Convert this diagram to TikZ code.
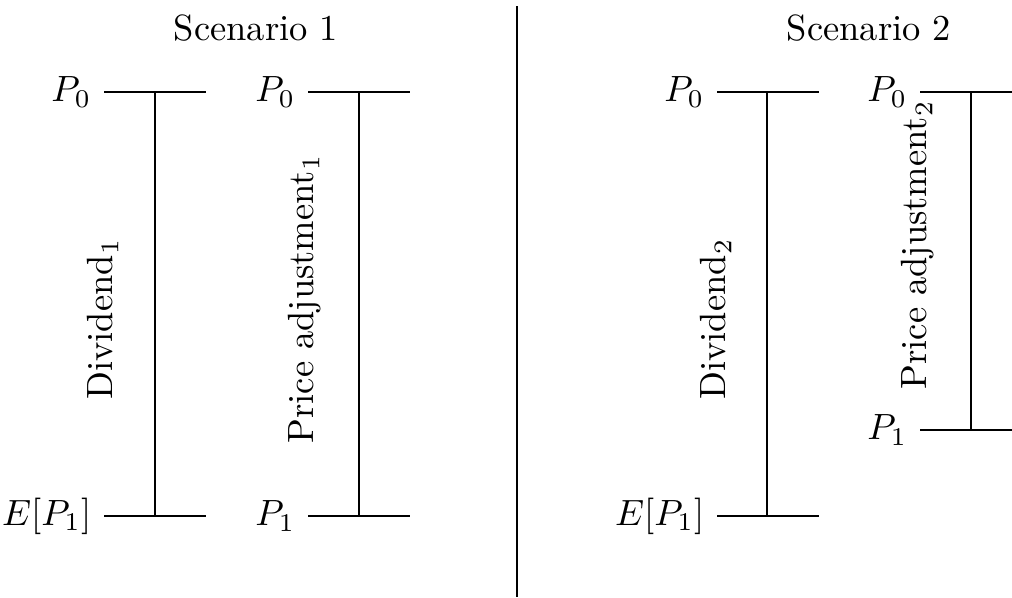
\documentclass[tikz,border=0pt]{standalone}
\begin{document}
\begin{tikzpicture}[x=0.274pt,y=-0.274pt,
  bar/.style={line width=0.3pt},
  lbl/.style={anchor=east,inner sep=3.3pt},
  vlbl/.style={rotate=90,inner sep=0pt}]
\useasboundingbox (0,0) rectangle (1012,597);
% titles
\node (t1) at (256,28) {Scenario 1};
\node (t2) at (869,28) {Scenario 2};
% divider
\coordinate (dvT) at (517,6);
\coordinate (dvB) at (517,597);
\draw[bar] (dvT) -- (dvB);
% ---- Scenario 1, bar A
\coordinate (a1) at (104,92);  \coordinate (a2) at (206,92);
\coordinate (a3) at (104,516); \coordinate (a4) at (206,516);
\coordinate (am1) at (155,92); \coordinate (am2) at (155,516);
\draw[bar] (a1) -- (a2); \draw[bar] (a3) -- (a4); \draw[bar] (am1) -- (am2);
\node[lbl] (aP0) at (a1) {$P_0$};
\node[lbl] (aE) at (a3) {$E[P_1]$};
\node[vlbl] (aD) at (103,319) {Dividend$_1$};
% ---- Scenario 1, bar B
\coordinate (b1) at (308,92);  \coordinate (b2) at (410,92);
\coordinate (b3) at (308,516); \coordinate (b4) at (410,516);
\coordinate (bm1) at (359,92); \coordinate (bm2) at (359,516);
\draw[bar] (b1) -- (b2); \draw[bar] (b3) -- (b4); \draw[bar] (bm1) -- (bm2);
\node[lbl] (bP0) at (b1) {$P_0$};
\node[lbl] (bP1) at (b3) {$P_1$};
\node[vlbl] (bD) at (305,299) {Price adjustment$_1$};
% ---- Scenario 2, bar C
\coordinate (c1) at (717,92);  \coordinate (c2) at (819,92);
\coordinate (c3) at (717,516); \coordinate (c4) at (819,516);
\coordinate (cm1) at (767,92); \coordinate (cm2) at (767,516);
\draw[bar] (c1) -- (c2); \draw[bar] (c3) -- (c4); \draw[bar] (cm1) -- (cm2);
\node[lbl] (cP0) at (c1) {$P_0$};
\node[lbl] (cE) at (c3) {$E[P_1]$};
\node[vlbl] (cD) at (716,319) {Dividend$_2$};
% ---- Scenario 2, bar D
\coordinate (d1) at (920,92);  \coordinate (d2) at (1022,92);
\coordinate (d3) at (920,430); \coordinate (d4) at (1022,430);
\coordinate (dm1) at (971,92); \coordinate (dm2) at (971,430);
\draw[bar] (d1) -- (d2); \draw[bar] (d3) -- (d4); \draw[bar] (dm1) -- (dm2);
\node[lbl] (dP0) at (d1) {$P_0$};
\node[lbl] (dP1) at (d3) {$P_1$};
\node[vlbl] (dD) at (918,245) {Price adjustment$_2$};
\end{tikzpicture}
\end{document}
